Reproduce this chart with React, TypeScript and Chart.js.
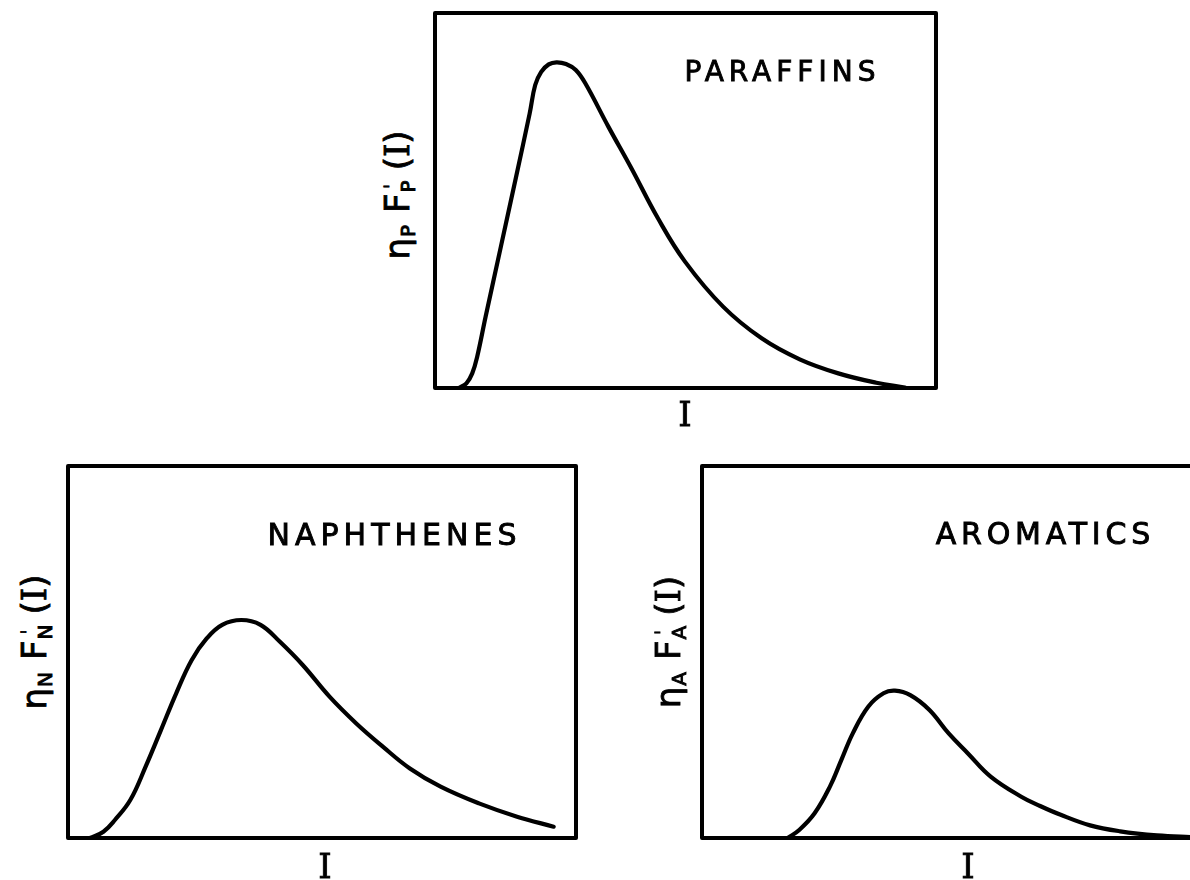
import React, { useEffect, useRef } from "react";
import { Chart, registerables } from "chart.js";

Chart.register(...registerables);

// Curve samples, x and y in percent of each panel's axis range (0..100)
const paraffinsX = [4.75, 6.27, 7.43, 8.42, 10.1, 13.15, 16.2, 18.9, 20.0, 21.2, 22.7, 24.25, 26.15, 28.1, 30.0, 34.6, 39.2, 44.5, 49.9, 57.5, 65.2, 72.8, 80.5, 88.1, 93.8];
const paraffinsY = [0, 1.25, 3.9, 8.35, 19.0, 37.7, 56.4, 73.25, 80.8, 84.3, 86.3, 86.85, 86.4, 84.8, 81.25, 69.7, 58.6, 45.25, 33.7, 21.7, 13.25, 7.65, 3.9, 1.4, 0.1];

const naphthenesX = [4.33, 6.97, 9.23, 12.26, 15.28, 18.29, 21.3, 24.33, 27.34, 30.35, 34.13, 37.9, 41.67, 46.2, 51.48, 56.75, 62.03, 67.3, 73.35, 80.9, 88.4, 95.6];
const naphthenesY = [0, 1.7, 4.84, 10.2, 19.2, 29.0, 38.9, 47.8, 53.7, 57.3, 58.6, 57.3, 52.8, 46.5, 38.0, 30.8, 24.5, 18.7, 13.8, 9.3, 5.73, 3.04];

const aromaticsX = [16.8, 19.06, 22.08, 25.08, 27.33, 29.59, 32.59, 35.59, 37.84, 40.84, 44.6, 48.37, 52.1, 56.6, 62.6, 66.3, 70.2, 76.1, 82.0, 89.2, 95.7, 100];
const aromaticsY = [0, 2.15, 6.64, 13.8, 21.0, 28.2, 35.3, 38.9, 39.6, 38.4, 34.4, 28.1, 22.8, 16.5, 11.1, 8.6, 6.3, 3.4, 1.8, 0.7, 0.27, 0.1];

const panelTitles = ["PARAFFINS", "NAPHTHENES", "AROMATICS"];
const xAxisLabel = "I";

const PAD = 10;

const framePlugin = {
  id: "frame",
  beforeDatasetsDraw(chart: any) {
    const { ctx, chartArea: a } = chart;
    ctx.save();
    ctx.strokeStyle = "#000";
    ctx.lineWidth = 4;
    ctx.lineJoin = "round";
    ctx.strokeRect(a.left, a.top, a.right - a.left, a.bottom - a.top);
    ctx.restore();
  },
};

function Panel(props: { left: number; top: number; width: number; height: number; xs: number[]; ys: number[] }) {
  const { left, top, width, height, xs, ys } = props;
  const ref = useRef<HTMLCanvasElement | null>(null);
  useEffect(() => {
    if (!ref.current) return;
    const chart = new Chart(ref.current, {
      type: "line",
      data: {
        datasets: [
          {
            data: xs.map((x, i) => ({ x, y: ys[i] })),
            borderColor: "#000",
            borderWidth: 4.2,
            pointRadius: 0,
            tension: 0.4,
            fill: false,
            borderCapStyle: "round",
            borderJoinStyle: "round",
          },
        ],
      },
      options: {
        responsive: false,
        animation: false,
        events: [],
        layout: { padding: PAD },
        plugins: { legend: { display: false }, tooltip: { enabled: false } },
        scales: {
          x: { type: "linear", min: 0, max: 100, display: false },
          y: { type: "linear", min: 0, max: 100, display: false },
        },
      },
      plugins: [framePlugin],
    } as any);
    return () => chart.destroy();
  }, []);
  const w = width + 2 * PAD;
  const h = height + 2 * PAD;
  return (
    <canvas
      ref={ref}
      width={w}
      height={h}
      style={{ position: "absolute", left: left - PAD, top: top - PAD, width: w, height: h }}
    />
  );
}

const sans = "'DejaVu Sans', sans-serif";
const serif = "'DejaVu Serif', serif";

function Title(props: { x: number; y: number; text: string; size: number; spacing: number }) {
  return (
    <div
      style={{
        position: "absolute",
        left: props.x,
        top: props.y,
        transform: "translate(-50%, -50%)",
        fontFamily: sans,
        fontSize: props.size,
        letterSpacing: props.spacing,
        paddingLeft: props.spacing,
        whiteSpace: "nowrap",
        lineHeight: 1,
        color: "#000",
        WebkitTextStroke: "0.9px #000",
      }}
    >
      {props.text}
    </div>
  );
}

function XLabel(props: { x: number; y: number }) {
  return (
    <div
      style={{
        position: "absolute",
        left: props.x,
        top: props.y,
        transform: "translate(-50%, -50%)",
        fontFamily: serif,
        fontSize: 34,
        lineHeight: 1,
        color: "#000",
        WebkitTextStroke: "0.8px #000",
      }}
    >
      {xAxisLabel}
    </div>
  );
}

function YLabel(props: { x: number; y: number; sub: string }) {
  return (
    <div
      style={{
        position: "absolute",
        left: props.x,
        top: props.y,
        transform: "translate(-50%, -50%) rotate(-90deg)",
        fontFamily: sans,
        fontSize: 34,
        whiteSpace: "nowrap",
        lineHeight: 1,
        color: "#000",
        WebkitTextStroke: "0.9px #000",
        display: "flex",
        alignItems: "flex-end",
      }}
    >
      <span>η</span>
      <span style={{ fontSize: 20, marginLeft: 1, position: "relative", top: 4 }}>{props.sub}</span>
      <span style={{ marginLeft: 12 }}>F</span>
      <span
        style={{
          display: "inline-flex",
          flexDirection: "column",
          alignItems: "center",
          marginLeft: 1,
          position: "relative",
          top: 4,
        }}
      >
        <span style={{ fontSize: 20, lineHeight: "12px" }}>ˈ</span>
        <span style={{ fontSize: 20, lineHeight: 1 }}>{props.sub}</span>
      </span>
      <span style={{ marginLeft: 10 }}>
        (<span style={{ fontFamily: serif }}>I</span>)
      </span>
    </div>
  );
}

export default function App() {
  return (
    <div
      style={{
        position: "fixed",
        left: 0,
        top: 0,
        width: 1190,
        height: 880,
        overflow: "hidden",
        background: "#fff",
      }}
    >
      <Panel left={435} top={13} width={501} height={375} xs={paraffinsX} ys={paraffinsY} />
      <Panel left={68} top={466} width={508} height={372} xs={naphthenesX} ys={naphthenesY} />
      <Panel left={702} top={466} width={510} height={372} xs={aromaticsX} ys={aromaticsY} />

      <Title x={780} y={72} text={panelTitles[0]} size={28} spacing={5} />
      <Title x={392} y={535} text={panelTitles[1]} size={30} spacing={5} />
      <Title x={1043} y={534} text={panelTitles[2]} size={30} spacing={4.8} />

      <XLabel x={685} y={414} />
      <XLabel x={325} y={866} />
      <XLabel x={968} y={866} />

      <YLabel x={397} y={195} sub="P" />
      <YLabel x={34} y={642} sub="N" />
      <YLabel x={668} y={642} sub="A" />
    </div>
  );
}
